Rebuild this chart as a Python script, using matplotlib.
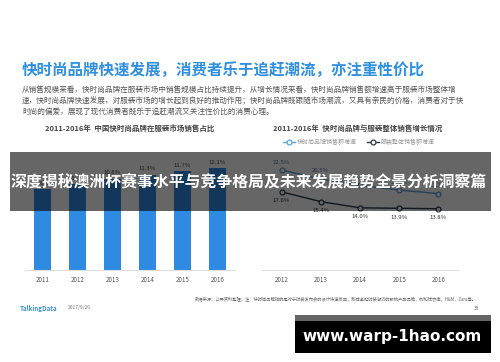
import matplotlib
matplotlib.use("Agg")
import matplotlib.pyplot as plt
from matplotlib.patches import Rectangle

plt.rcParams['font.family'] = ['Noto Sans CJK SC', 'DejaVu Sans']

# ---- data ----
bar_years = ["2011", "2012", "2013", "2014", "2015", "2016"]
bar_values = [9.6, 10.2, 10.8, 11.3, 11.7, 12.1]
bar_labels = ["9.6%", "10.2%", "10.8%", "11.3%", "11.7%", "12.1%"]

line_years = ["2012", "2013", "2014", "2015", "2016"]
fast_growth = [22.5, 20.5, 19.1, 18.0, 17.2]
fast_labels = ["22.5%", "20.5%", "19.1%", "18.0%", "17.2%"]
apparel_growth = [17.6, 15.4, 14.0, 13.9, 13.8]
apparel_labels = ["17.6%", "15.4%", "14.0%", "13.9%", "13.8%"]
legend_names = ["快时尚品牌销售额增速", "服装整体销售额增速"]

title = "快时尚品牌快速发展，消费者乐于追赶潮流，亦注重性价比"
para = ["从销售规模来看，快时尚品牌在服装市场中销售规模占比持续提升，从增长情况来看，快时尚品牌销售额增速高于服装市场整体增",
        "速，快时尚品牌快速发展，对服装市场的增长起到良好的推动作用；快时尚品牌既跟随市场潮流，又具有亲民的价格，消费者对于快",
        "时尚的偏爱，展现了现代消费者既乐于追赶潮流又关注性价比的消费心理。"]
left_title = "2011-2016年  中国快时尚品牌在服装市场销售占比"
right_title = "2011-2016年  快时尚品牌与服装整体销售增长情况"
banner = "深度揭秘澳洲杯赛事水平与竞争格局及未来发展趋势全景分析洞察篇"
source = "数据来源：公开资料整理；注：快时尚品牌指的是对于时装发布会的设计快速反应，制成紧贴时装潮流的服饰产品品牌，例如优衣库，H&M，Zara等。"
watermark = "www.warp-1hao.com"

W, H = 500, 362
fig = plt.figure(figsize=(W / 100, H / 100), dpi=100)
fig.patch.set_facecolor("white")

def box(x0, y0, w, h):
    return [x0 / W, 1 - (y0 + h) / H, w / W, h / H]

# ---- left bar chart ----
axl = fig.add_axes(box(25, 152, 210, 118))
xs = range(len(bar_years))
axl.bar(xs, bar_values, width=0.49, color="#2f8ae2", zorder=2)
for x, v, lab in zip(xs, bar_values, bar_labels):
    axl.annotate(lab, (x, v), xytext=(0, 2.5), textcoords="offset points",
                 ha="center", va="bottom", fontsize=4.3, color="#444444")
axl.set_xlim(-0.5, 5.5)
axl.set_ylim(0, 14)
axl.set_xticks(list(xs))
axl.set_xticklabels(bar_years, fontsize=4.5, color="#555555")
axl.set_yticks([])
axl.tick_params(axis="x", length=0, pad=4)
for s in ["top", "left", "right"]:
    axl.spines[s].set_visible(False)
axl.spines["bottom"].set_color("#dddddd")
axl.spines["bottom"].set_linewidth(0.8)

# ---- right line chart ----
axr = fig.add_axes(box(262, 155, 196, 115))
lx = range(len(line_years))
axr.plot(lx, fast_growth, color="#5aa5da", lw=1.0, marker="o", ms=3.5,
         mfc="white", mec="#5aa5da", mew=0.9, label=legend_names[0])
axr.plot(lx, apparel_growth, color="#2b3a52", lw=1.0, marker="o", ms=3.5,
         mfc="white", mec="#2b3a52", mew=0.9, label=legend_names[1])
for x, v, lab in zip(lx, fast_growth, fast_labels):
    axr.annotate(lab, (x, v), xytext=(0, 4), textcoords="offset points",
                 ha="center", va="bottom", fontsize=4.3, color="#4a82b8")
for x, v, lab in zip(lx, apparel_growth, apparel_labels):
    axr.annotate(lab, (x, v), xytext=(0, -4.5), textcoords="offset points",
                 ha="center", va="top", fontsize=4.3, color="#333333")
axr.set_xlim(-0.5, 4.5)
axr.set_ylim(0, 115 / 4.44)
axr.set_xticks(list(lx))
axr.set_xticklabels(line_years, fontsize=4.5, color="#555555")
axr.set_yticks([])
axr.tick_params(axis="x", length=0, pad=4)
for s in ["top", "left", "right"]:
    axr.spines[s].set_visible(False)
axr.spines["bottom"].set_color("#dddddd")
axr.spines["bottom"].set_linewidth(0.8)
axr.legend(loc="center", bbox_to_anchor=(359 / W, 1 - 142 / H),
           bbox_transform=fig.transFigure, ncol=2, frameon=False,
           fontsize=4.3, labelcolor="#999999", handlelength=2.0,
           columnspacing=1.8, handletextpad=0.3)

# ---- overlay (page text, banner, watermark) ----
ov = fig.add_axes([0, 0, 1, 1], zorder=10)
ov.set_xlim(0, W)
ov.set_ylim(H, 0)
ov.axis("off")
ov.patch.set_alpha(0)

ov.text(22, 70, title, fontsize=11.2, fontweight="bold", color="#2f8fe0",
        ha="left", va="center")
for i, line in enumerate(para):
    ov.text(22, 90 + i * 11.5, line, fontsize=5.5, color="#555555",
            ha="left", va="center")
ov.text(130, 128, left_title, fontsize=5.4, fontweight="bold", color="#444444",
        ha="center", va="center")
ov.text(358, 128, right_title, fontsize=5.4, fontweight="bold", color="#444444",
        ha="center", va="center")

ov.add_patch(Rectangle((10, 152), 481, 59, color="black", alpha=0.6, lw=0))
ov.text(249, 181, banner, fontsize=11.4, fontweight="bold", color="white",
        ha="center", va="center")

ov.text(20, 308, "TalkingData", fontsize=4.5, color="#3a8fd8", ha="left", va="center",
        fontweight="bold")
ov.text(68, 308, "2017/9/26", fontsize=3.5, color="#777777", ha="left", va="center")
ov.text(195, 299, source, fontsize=3.1, color="#666666", ha="left", va="center")
ov.text(477, 308, "35", fontsize=3.5, color="#666666", ha="center", va="center")

ov.add_patch(Rectangle((295, 315), 196, 38, color="black", lw=0))
ov.add_patch(Rectangle((295, 315), 196, 6, color="#666666", lw=0))
ov.text(392, 337, watermark, fontsize=11, fontweight="bold", color="white",
        ha="center", va="center", family="DejaVu Sans")

fig.savefig("out.png", dpi=100)
